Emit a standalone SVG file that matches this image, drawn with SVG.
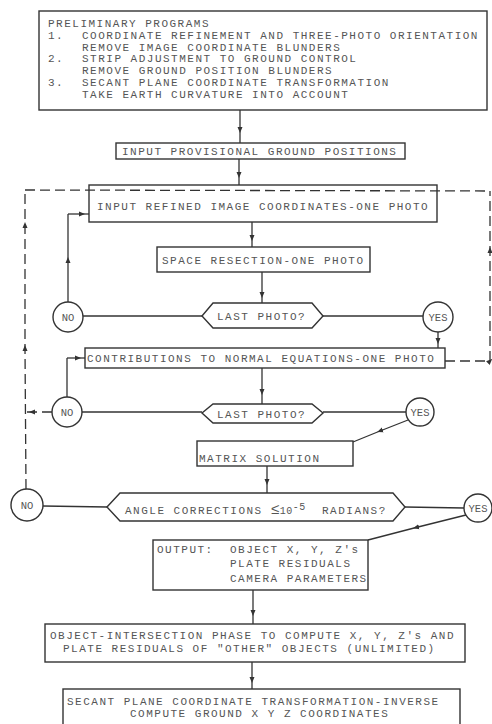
<svg xmlns="http://www.w3.org/2000/svg" width="492" height="724" viewBox="0 0 492 724">
<defs>
<style>
.t{font-family:"Liberation Mono","DejaVu Sans Mono",monospace;font-size:11px;letter-spacing:1.5px;fill:#555}
.c{font-family:"Liberation Mono","DejaVu Sans Mono",monospace;font-size:10.5px;fill:#555;text-anchor:middle}
.b{fill:#fff;stroke:#333;stroke-width:1.4}
.l{fill:none;stroke:#333;stroke-width:1.3}
.a{marker-mid:url(#ah)}
.d{fill:none;stroke:#333;stroke-width:1.3;stroke-dasharray:10 5}
</style>
<marker id="ah" viewBox="0 0 6 6" refX="3" refY="3" markerWidth="6" markerHeight="6" markerUnits="userSpaceOnUse" orient="auto">
<path d="M0,0.5 L6,3 L0,5.5 z" fill="#333"/>
</marker>
</defs>
<g id="n_prelim">
<rect class="b" x="39" y="11" width="448" height="99"/>
<text class="t" x="48" y="27">PRELIMINARY PROGRAMS</text>
<text class="t" x="48" y="38.8">1.</text>
<text class="t" x="82" y="38.8">COORDINATE REFINEMENT AND THREE-PHOTO ORIENTATION</text>
<text class="t" x="82" y="50.6">REMOVE IMAGE COORDINATE BLUNDERS</text>
<text class="t" x="48" y="62.4">2.</text>
<text class="t" x="82" y="62.4">STRIP ADJUSTMENT TO GROUND CONTROL</text>
<text class="t" x="82" y="74.2">REMOVE GROUND POSITION BLUNDERS</text>
<text class="t" x="48" y="86">3.</text>
<text class="t" x="82" y="86">SECANT PLANE COORDINATE TRANSFORMATION</text>
<text class="t" x="82" y="97.8">TAKE EARTH CURVATURE INTO ACCOUNT</text>
</g>
<g id="n_provisional">
<rect class="b" x="116" y="143" width="289" height="16"/>
<text class="t" x="122" y="155">INPUT PROVISIONAL GROUND POSITIONS</text>
</g>
<g id="n_refined">
<rect class="b" x="89" y="185" width="348" height="37"/>
<text class="t" x="97" y="210">INPUT REFINED IMAGE COORDINATES-ONE PHOTO</text>
</g>
<g id="n_resection">
<rect class="b" x="157" y="247" width="213" height="25"/>
<text class="t" x="162" y="264">SPACE RESECTION-ONE PHOTO</text>
</g>
<g id="n_last1">
<polygon class="b" points="202,316 213,303 312,303 323,316 312,328 213,328"/>
<text class="t" x="217" y="320">LAST PHOTO?</text>
</g>
<g id="n_no1">
<circle class="b" cx="68" cy="317" r="15"/>
<text class="c" x="68" y="321">NO</text>
</g>
<g id="n_yes1">
<circle class="b" cx="438" cy="317" r="15"/>
<text class="c" x="438" y="321">YES</text>
</g>
<g id="n_contrib">
<rect class="b" x="85" y="348" width="360" height="20"/>
<text class="t" x="87" y="362">CONTRIBUTIONS TO NORMAL EQUATIONS-ONE PHOTO</text>
</g>
<g id="n_last2">
<polygon class="b" points="202,413 213,404 312,404 323,413 312,423 213,423"/>
<text class="t" x="217" y="418">LAST PHOTO?</text>
</g>
<g id="n_no2">
<circle class="b" cx="67" cy="412" r="15"/>
<text class="c" x="67" y="416">NO</text>
</g>
<g id="n_yes2">
<circle class="b" cx="420" cy="412" r="14"/>
<text class="c" x="420" y="416">YES</text>
</g>
<g id="n_matrix">
<rect class="b" x="197" y="441" width="156" height="25"/>
<text class="t" x="199" y="462">MATRIX SOLUTION</text>
</g>
<g id="n_angle">
<polygon class="b" points="107,507 120,493 393,493 405,507 393,521 120,521"/>
<text class="t" x="125" y="514">ANGLE CORRECTIONS <tspan font-size="15" letter-spacing="0">≤</tspan><tspan font-size="10" letter-spacing="0.5">10</tspan><tspan font-size="10" dy="-4" letter-spacing="0.5">-5</tspan><tspan dy="4" x="322">RADIANS?</tspan></text>
</g>
<g id="n_no3">
<circle class="b" cx="27" cy="505" r="16"/>
<text class="c" x="27" y="509">NO</text>
</g>
<g id="n_yes3">
<circle class="b" cx="478" cy="508" r="14"/>
<text class="c" x="478" y="512">YES</text>
</g>
<g id="n_output">
<rect class="b" x="153" y="540" width="215" height="50"/>
<text class="t" x="157" y="553">OUTPUT:</text>
<text class="t" x="230" y="553">OBJECT X, Y, Z's</text>
<text class="t" x="230" y="567">PLATE RESIDUALS</text>
<text class="t" x="230" y="582">CAMERA PARAMETERS</text>
</g>
<g id="n_intersect">
<rect class="b" x="45" y="624" width="420" height="38"/>
<text class="t" x="50" y="639">OBJECT-INTERSECTION PHASE TO COMPUTE X, Y, Z's AND</text>
<text class="t" x="63" y="652">PLATE RESIDUALS OF "OTHER" OBJECTS (UNLIMITED)</text>
</g>
<g id="n_secant">
<rect class="b" x="63" y="689" width="397" height="45"/>
<text class="t" x="67" y="705">SECANT PLANE COORDINATE TRANSFORMATION-INVERSE</text>
<text class="t" x="130" y="717">COMPUTE GROUND X Y Z COORDINATES</text>
</g>
<g id="connectors">
<path class="l a" d="M240,110 L240,130 L240,143"/>
<path class="l a" d="M239,159 L239,175 L239,185"/>
<path class="l a" d="M252,222 L252,238 L252,247"/>
<path class="l a" d="M262,272 L262,295 L262,303"/>
<path class="l" d="M83,316 L202,316"/>
<path class="l a" d="M68,302 L68,260 L68,214"/>
<path class="l a" d="M68,214 L82,214 L89,214"/>
<path class="l" d="M323,316 L423,316"/>
<path class="l a" d="M438,332 L438,341 L438,348"/>
<path class="l a" d="M262,368 L262,392 L262,404"/>
<path class="l" d="M82,412 L202,412"/>
<path class="l" d="M67,397 L67,358"/>
<path class="l a" d="M67,358 L78,358 L85,358"/>
<path class="d a" d="M52,412 L32,412 L25,412"/>
<path class="l" d="M323,412 L406,412"/>
<path class="l a" d="M408,420 L380,431 L353,442"/>
<path class="l a" d="M267,466 L267,482 L267,493"/>
<path class="l" d="M43,506 L107,507"/>
<path class="l" d="M405,507 L464,508"/>
<path class="l a" d="M466,515 L416,527.5 L368,540"/>
<path class="l a" d="M253,590 L253,613 L253,624"/>
<path class="l a" d="M252,662 L252,680 L252,689"/>
<path class="d a" d="M26,489 L25,348 L25,225 L25,190"/>
<path class="d" d="M25,190 L490,191"/>
<path class="d a" d="M445,361 L490,361 L490,250 L490,191"/>
</g>
</svg>
